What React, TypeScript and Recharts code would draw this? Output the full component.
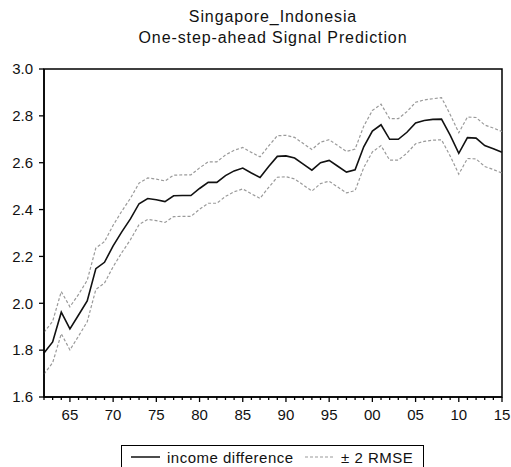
import React from 'react';
import { LineChart, Line, XAxis, YAxis, ReferenceArea } from 'recharts';

const years: number[] = [];
for (let y = 1962; y <= 2015; y++) years.push(y);

const incomeDifference = [
  1.788, 1.835, 1.962, 1.891, 1.950, 2.010, 2.148, 2.175, 2.245, 2.305,
  2.360, 2.425, 2.447, 2.442, 2.434, 2.459, 2.460, 2.460, 2.490, 2.516,
  2.516, 2.545, 2.565, 2.577, 2.556, 2.537, 2.584, 2.627, 2.629, 2.620,
  2.594, 2.568, 2.600, 2.610, 2.585, 2.560, 2.570, 2.668, 2.735, 2.762,
  2.700, 2.700, 2.730, 2.770, 2.780, 2.785, 2.786, 2.718, 2.640, 2.707,
  2.705, 2.673, 2.660, 2.645,
];

const upperBand = [
  1.876, 1.923, 2.050, 1.985, 2.038, 2.098, 2.236, 2.263, 2.333, 2.393,
  2.448, 2.513, 2.535, 2.530, 2.522, 2.547, 2.548, 2.548, 2.578, 2.604,
  2.604, 2.633, 2.653, 2.665, 2.644, 2.625, 2.672, 2.715, 2.717, 2.708,
  2.682, 2.656, 2.688, 2.698, 2.673, 2.648, 2.658, 2.756, 2.823, 2.850,
  2.788, 2.788, 2.818, 2.858, 2.868, 2.873, 2.878, 2.806, 2.728, 2.795,
  2.793, 2.761, 2.748, 2.733,
];

const lowerBand = [
  1.698, 1.746, 1.870, 1.801, 1.860, 1.921, 2.059, 2.086, 2.156, 2.216,
  2.271, 2.336, 2.358, 2.353, 2.345, 2.370, 2.371, 2.371, 2.401, 2.427,
  2.427, 2.456, 2.476, 2.488, 2.467, 2.448, 2.495, 2.538, 2.540, 2.531,
  2.505, 2.479, 2.511, 2.521, 2.496, 2.471, 2.481, 2.579, 2.646, 2.673,
  2.611, 2.611, 2.641, 2.681, 2.691, 2.696, 2.698, 2.629, 2.551, 2.618,
  2.616, 2.584, 2.571, 2.556,
];

const yTicks = [1.6, 1.8, 2.0, 2.2, 2.4, 2.6, 2.8, 3.0];
const titleLines = ['Singapore_Indonesia', 'One-step-ahead Signal Prediction'];
const legendLabels = ['income difference', '\u00b1 2 RMSE'];

const data = years.map((yr, i) => ({
  year: yr,
  value: incomeDifference[i],
  upper: upperBand[i],
  lower: lowerBand[i],
}));

const FONT = '"Liberation Sans", Arial, sans-serif';
const TEXT = '#111';
const BAND = '#9a9a9a';

const XTick = (props: any) => {
  const { x, y, payload } = props;
  const yr = payload.value as number;
  const major = yr % 5 === 0;
  return (
    <g>
      <line x1={x} x2={x} y1={y} y2={y + (major ? 5 : 3)} stroke="#000" strokeWidth={1.3} />
      {major && (
        <text x={x} y={y + 23} textAnchor="middle" fontSize={15} fill={TEXT} fontFamily={FONT}>
          {String(yr % 100).padStart(2, '0')}
        </text>
      )}
    </g>
  );
};

const YTick = (props: any) => {
  const { x, y, payload } = props;
  const v = payload.value as number;
  // x is the text anchor position (axis x - tickSize - tickMargin)
  return (
    <g>
      <line x1={x + 6} x2={x + 11} y1={y} y2={y} stroke="#000" strokeWidth={1.3} />
      <text x={x} y={y} dy="0.355em" textAnchor="end" fontSize={15} fill={TEXT} fontFamily={FONT}>
        {v.toFixed(1)}
      </text>
    </g>
  );
};

export default function App() {
  return (
    <div style={{ position: 'absolute', left: 0, top: 0, width: 511, height: 467, background: '#fff', fontFamily: FONT }}>
      <div style={{ position: 'absolute', left: 0, width: 546, top: 6, textAlign: 'center', fontSize: 16, letterSpacing: 0.9, color: TEXT, lineHeight: '21px' }}>
        <div>{titleLines[0]}</div>
        <div>{titleLines[1]}</div>
      </div>
      <LineChart width={511} height={467} data={data} margin={{ top: 69, right: 9, left: 0, bottom: 0 }}>
        <XAxis
          dataKey="year"
          type="number"
          domain={[1962, 2015]}
          ticks={years}
          interval={0}
          tick={<XTick />}
          tickLine={false}
          tickSize={0}
          tickMargin={0}
          height={70}
          axisLine={{ stroke: '#000', strokeWidth: 1.5 }}
        />
        <YAxis
          type="number"
          domain={[1.6, 3.0]}
          ticks={yTicks}
          interval={0}
          width={44}
          tickSize={0}
          tickMargin={11}
          tick={<YTick />}
          tickLine={false}
          axisLine={{ stroke: '#000', strokeWidth: 1.5 }}
        />
        <ReferenceArea x1={1962} x2={2015} y1={1.6} y2={3.0} fill="none" stroke="#000" strokeWidth={1.5} ifOverflow="visible" />
        <Line type="linear" dataKey="upper" stroke={BAND} strokeWidth={1.2} strokeDasharray="3 2" dot={false} isAnimationActive={false} />
        <Line type="linear" dataKey="lower" stroke={BAND} strokeWidth={1.2} strokeDasharray="3 2" dot={false} isAnimationActive={false} />
        <Line type="linear" dataKey="value" stroke="#111" strokeWidth={1.6} dot={false} isAnimationActive={false} />
      </LineChart>
      <div style={{ position: 'absolute', left: 121, top: 445, width: 303, height: 30, border: '1.5px solid #000', boxSizing: 'border-box', background: '#fff' }}>
        <svg width={303} height={30} style={{ position: 'absolute', left: 0, top: 0 }}>
          <line x1={9} x2={38} y1={11} y2={11} stroke="#111" strokeWidth={1.5} />
          <text x={45} y={16.5} fontSize={15} letterSpacing={0.5} fill={TEXT} fontFamily={FONT}>{legendLabels[0]}</text>
          <line x1={183} x2={212} y1={11} y2={11} stroke={BAND} strokeWidth={1.2} strokeDasharray="3 2" />
          <text x={219} y={16.5} fontSize={15} letterSpacing={0.5} fill={TEXT} fontFamily={FONT}>{legendLabels[1]}</text>
        </svg>
      </div>
    </div>
  );
}
